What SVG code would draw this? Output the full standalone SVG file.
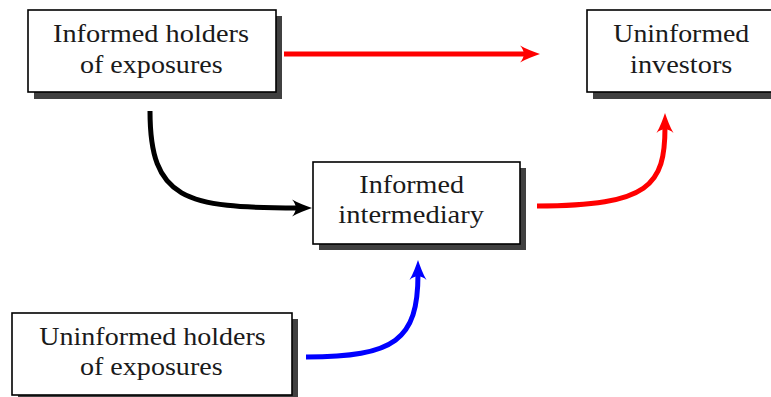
<svg xmlns="http://www.w3.org/2000/svg" width="771" height="397" viewBox="0 0 771 397">
<style>
.box{fill:#fff;stroke:#000;stroke-width:1.6}
.shadow{fill:#404040}
.lbl{font-family:"Liberation Serif","Times New Roman",serif;font-size:26px;fill:#1a1a1a;text-anchor:middle}
.edge{fill:none;stroke-width:5}
</style>
<defs>
<marker id="ah-red" markerUnits="userSpaceOnUse" markerWidth="24" markerHeight="20" viewBox="0 -10 24 20" refX="6" refY="0" orient="auto" overflow="visible">
<path d="M20,0 C14,-2 6,-5 0,-8.5 C5,-3 5,3 0,8.5 C6,5 14,2 20,0 Z" fill="#ff0000"/>
</marker>
<marker id="ah-black" markerUnits="userSpaceOnUse" markerWidth="24" markerHeight="20" viewBox="0 -10 24 20" refX="6" refY="0" orient="auto" overflow="visible">
<path d="M20,0 C14,-2 6,-5 0,-8.5 C5,-3 5,3 0,8.5 C6,5 14,2 20,0 Z" fill="#000"/>
</marker>
<marker id="ah-blue" markerUnits="userSpaceOnUse" markerWidth="24" markerHeight="20" viewBox="0 -10 24 20" refX="6" refY="0" orient="auto" overflow="visible">
<path d="M20,0 C14,-2 6,-5 0,-8.5 C5,-3 5,3 0,8.5 C6,5 14,2 20,0 Z" fill="#0000ff"/>
</marker>
</defs>
<g id="node-informed-holders">
<rect class="shadow" x="34" y="16" width="248" height="83"/>
<rect class="box" x="28" y="10" width="248" height="82"/>
<text class="lbl" x="151" y="42.3" textLength="196" lengthAdjust="spacingAndGlyphs">Informed holders</text>
<text class="lbl" x="151.3" y="72.7" textLength="142.7" lengthAdjust="spacingAndGlyphs">of exposures</text>
</g>
<g id="node-uninformed-investors">
<rect class="shadow" x="593" y="16" width="190" height="83"/>
<rect class="box" x="587" y="10" width="190" height="82"/>
<text class="lbl" x="681.3" y="42.3" textLength="136" lengthAdjust="spacingAndGlyphs">Uninformed</text>
<text class="lbl" x="681.2" y="72.7" textLength="102.3" lengthAdjust="spacingAndGlyphs">investors</text>
</g>
<g id="node-informed-intermediary">
<rect class="shadow" x="319" y="168" width="207" height="82"/>
<rect class="box" x="313" y="162" width="207" height="82"/>
<text class="lbl" x="411.7" y="193.3" textLength="104.7" lengthAdjust="spacingAndGlyphs">Informed</text>
<text class="lbl" x="411.2" y="222.7" textLength="145.7" lengthAdjust="spacingAndGlyphs">intermediary</text>
</g>
<g id="node-uninformed-holders">
<rect class="shadow" x="18" y="319" width="280" height="83"/>
<rect class="box" x="12" y="313" width="280" height="82"/>
<text class="lbl" x="152.5" y="345" textLength="226.3" lengthAdjust="spacingAndGlyphs">Uninformed holders</text>
<text class="lbl" x="151.3" y="375" textLength="142.7" lengthAdjust="spacingAndGlyphs">of exposures</text>
</g>
<g id="connectors">
<path class="edge" stroke="#ff0000" d="M284,54 L526,54" marker-end="url(#ah-red)"/>
<path class="edge" stroke="#000" d="M150,111 C150,200 185,208 298,208" marker-end="url(#ah-black)"/>
<path class="edge" stroke="#ff0000" d="M537,206 C650,206 665,185 665,127" marker-end="url(#ah-red)"/>
<path class="edge" stroke="#0000ff" d="M306,357 C395,357 418,340 418,274" marker-end="url(#ah-blue)"/>
</g>
</svg>
